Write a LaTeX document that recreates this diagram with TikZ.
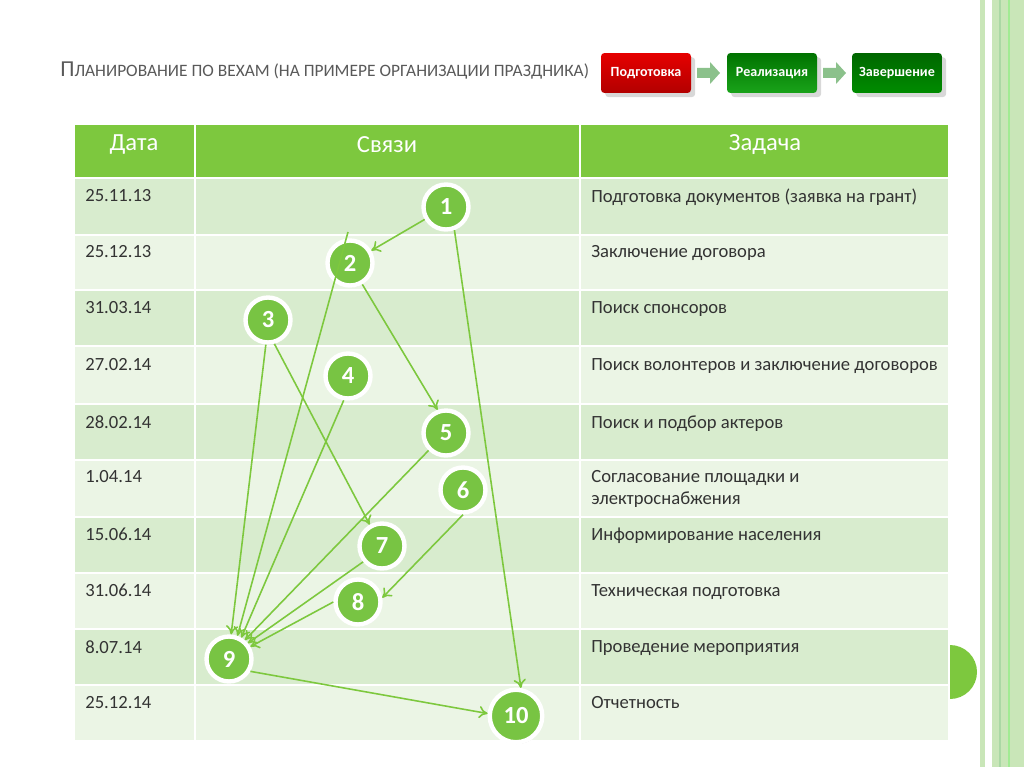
\documentclass[tikz,border=0pt]{standalone}
\usepackage{fontspec}
\setmainfont{Carlito}
\usetikzlibrary{arrows.meta,shadows}
\definecolor{hdr}{HTML}{7DC83E}
\definecolor{rowA}{HTML}{D8ECCE}
\definecolor{rowB}{HTML}{EBF5E5}
\definecolor{ln}{HTML}{7DC83E}
\definecolor{circ}{HTML}{78C443}
\definecolor{strip}{HTML}{C9E6B8}
\definecolor{tgray}{HTML}{595959}
\begin{document}
\begin{tikzpicture}[x=0.02cm,y=-0.02cm,
  ms/.style={circle,fill=circ,draw=white,line width=2.5pt,minimum size=0.9cm,inner sep=0pt,
    text=white,font=\fontsize{14}{14}\selectfont\bfseries,drop shadow={opacity=0.35,shadow xshift=0.5pt,shadow yshift=-1pt}},
  ar/.style={draw=ln,line width=0.9pt,-{To[length=5pt,width=7pt]}},
  cell/.style={anchor=north west,font=\fontsize{10.6}{12.5}\selectfont,text=black!80,inner sep=0pt,align=left},
  hd/.style={font=\fontsize{14}{16}\selectfont,text=white,anchor=center},
  btn/.style={rounded corners=2pt,minimum width=1.8cm,minimum height=0.8cm,text=white,
    font=\fontsize{8}{9}\selectfont\bfseries,drop shadow={opacity=0.3}}]
\useasboundingbox (0,0) rectangle (1024,767);
\fill[white] (0,0) rectangle (1024,767);
% right stripes
\fill[strip] (980,0) rectangle (985,767);
\fill[strip] (992,0) rectangle (1024,767);
\draw[strip!70!green!80!black!60,line width=0.6pt] (1000,0) -- (1000,767);
\draw[strip!80!green,line width=0.6pt] (1009,0) -- (1009,767);
\fill[hdr] (950,699) arc (90:-90:27) -- cycle;
% title
\node[anchor=west,text=tgray,inner sep=0pt] (title) at (60,71)
 {\fontsize{13}{14}\selectfont П\fontsize{9.9}{12}\selectfont ЛАНИРОВАНИЕ ПО ВЕХАМ (НА ПРИМЕРЕ ОРГАНИЗАЦИИ ПРАЗДНИКА)};
% buttons
\node[btn,top color=red!90!black,bottom color=red!70!black] (b1) at (646,73) {Подготовка};
\node[btn,top color=green!45!black,bottom color=green!60!black!90] (b2) at (772,73) {Реализация};
\node[btn,top color=green!40!black,bottom color=green!55!black] (b3) at (897,73) {Завершение};
\fill[green!30!gray!70] (697,68) -- (710,68) -- (710,62) -- (720,73) -- (710,84) -- (710,78) -- (697,78) -- cycle;
\fill[green!30!gray!70] (823,68) -- (836,68) -- (836,62) -- (846,73) -- (836,84) -- (836,78) -- (823,78) -- cycle;
% table
\fill[hdr] (75,125) rectangle (948,178);
\foreach \t/\b [count=\i] in {178/235,235/290,290/346,346/404,404/460,460/517,517/573,573/629,629/685,685/740}{
  \pgfmathparse{mod(\i,2)==1?1:0}
  \ifnum\pgfmathresult=1 \fill[rowA] (75,\t) rectangle (948,\b); \else \fill[rowB] (75,\t) rectangle (948,\b); \fi
  \draw[white,line width=1.2pt] (75,\t) -- (948,\t);
}
\draw[white,line width=1.2pt] (195,125) -- (195,740) (580,125) -- (580,740);
\node[hd] (h1) at (134,145) {Дата};
\node[hd] (h2) at (387,145) {Связи};
\node[hd] (h3) at (765,145) {Задача};
\foreach \y/\d/\tk in {189/25.11.13/Подготовка документов (заявка на грант),
  245/25.12.13/Заключение договора, 301/31.03.14/Поиск спонсоров,
  358/27.02.14/Поиск волонтеров и заключение договоров, 415/28.02.14/Поиск и подбор актеров,
  470/1.04.14/{Согласование площадки и\\электроснабжения}, 528/15.06.14/Информирование населения,
  584/31.06.14/Техническая подготовка, 640/8.07.14/Проведение мероприятия, 696/25.12.14/Отчетность}{
  \node[cell] at (85,\y) {\d};
  \node[cell] at (591,\y) {\tk};
}
% milestones
\coordinate (s2) at (348,232);
\node[ms] (n1) at (446,207) {1};
\node[ms] (n2) at (350,263) {2};
\node[ms] (n3) at (268,320) {3};
\node[ms] (n4) at (348,376) {4};
\node[ms] (n5) at (446,433) {5};
\node[ms] (n6) at (463,490) {6};
\node[ms] (n7) at (382,546) {7};
\node[ms] (n8) at (358,602) {8};
\node[ms] (n9) at (229,659) {9};
\node[ms,minimum width=1.05cm] (n10) at (516,716) {10};
% connectors
\draw[ar] (n1) -- (n2);
\draw[ar] (n1.-70) -- (n10.80);
\draw[ar] (n2.-60) -- (n5.110);
\draw[ar] (s2) -- (n9.70);
\draw[ar] (n3.-95) -- (n9.85);
\draw[ar] (n3.-75) -- (n7.120);
\draw[ar] (n4.-100) -- (n9.60);
\draw[ar] (n5.-135) -- (n9.50);
\draw[ar] (n6.-90) -- (n8.10);
\draw[ar] (n7.-140) -- (n9.40);
\draw[ar] (n8.180) -- (n9.30);
\draw[ar] (n9.-30) -- (n10.175);
\end{tikzpicture}
\end{document}
